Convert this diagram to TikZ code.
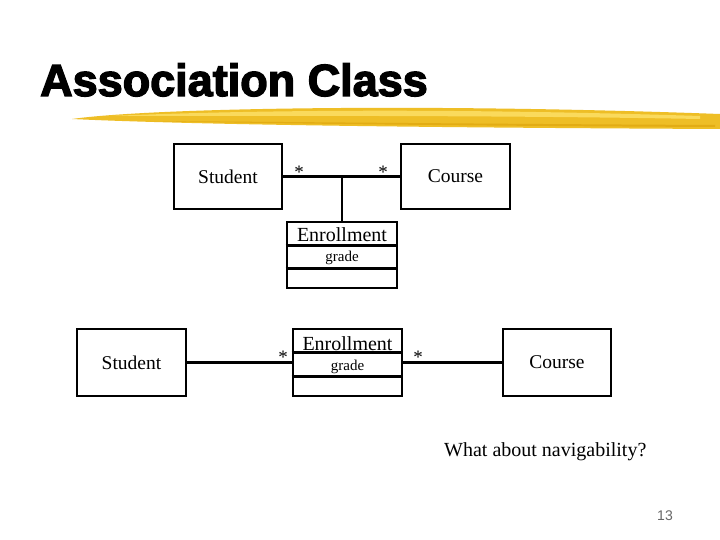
\documentclass[tikz,border=0pt]{standalone}
\usepackage{fontspec}
\setmainfont{Liberation Serif}
\newfontfamily\titlefont{Liberation Sans Bold}[FakeBold=3]
\newfontfamily\numfont{Liberation Sans}
\usetikzlibrary{positioning}
\definecolor{brushgold}{RGB}{238,190,38}
\definecolor{brushlight}{RGB}{250,218,92}
\definecolor{brushdark}{RGB}{226,172,20}
\tikzset{
  px/.style={x=1pt, y=-1pt},
  classbox/.style={draw=black, line width=2.6pt, inner sep=0pt, font=\fontsize{19.5}{22}\selectfont},
  umlline/.style={black, line width=2.6pt},
  mult/.style={inner sep=0pt, font=\fontsize{19}{20}\selectfont},
  attr/.style={inner sep=0pt, font=\fontsize{15}{17}\selectfont},
  cname/.style={inner sep=0pt, font=\fontsize{20}{22}\selectfont},
}
\begin{document}
\begin{tikzpicture}[px]
  \useasboundingbox[fill=white] (0,0) rectangle (720,540);
  % title and brush stroke
  \node[anchor=base west, inner sep=0pt, font=\titlefont\fontsize{45}{50}\selectfont] (title) at (40,96) {Association Class};
  \fill[brushgold] (72,119) .. controls (150,108) and (420,103) .. (720,114)
       -- (720,129) .. controls (520,128) and (220,126) .. (72,119) -- cycle;
  \fill[brushdark] (150,121) .. controls (300,122) and (500,124) .. (715,125)
       -- (715,127) .. controls (500,126) and (300,124) .. (150,121) -- cycle;
  \fill[brushlight] (110,116) .. controls (250,110) and (450,108) .. (700,116)
       -- (700,119) .. controls (480,115) and (260,116) .. (110,116) -- cycle;
  % upper diagram: association class hanging off the association
  \node[classbox, minimum width=108, minimum height=65] (stuA) at (228,176.5) {Student};
  \node[classbox, minimum width=109, minimum height=65] (crsA) at (455.5,176.5) {Course};
  \node[classbox, minimum width=110, minimum height=66] (enrA) at (342,255) {};
  \draw[umlline] ([yshift=-25pt]enrA.north west) -- ([yshift=-25pt]enrA.north east);
  \draw[umlline] ([yshift=-48pt]enrA.north west) -- ([yshift=-48pt]enrA.north east);
  \node[cname] (enrAname) at (342,234.5) {Enrollment};
  \node[attr] (enrAattr) at (342,258) {grade};
  \draw[umlline] (stuA) -- (crsA);
  \draw[umlline] (enrA) -- (enrA |- stuA);
  \node[mult] (mA1) at (299,172) {*};
  \node[mult] (mA2) at (383,172) {*};
  % lower diagram: association class as a plain class
  \node[classbox, minimum width=109, minimum height=67] (stuB) at (131.5,362.5) {Student};
  \node[classbox, minimum width=108, minimum height=67] (crsB) at (557,362.5) {Course};
  \node[classbox, minimum width=109, minimum height=67] (enrB) at (347.5,362.5) {};
  \draw[umlline] ([yshift=-25pt]enrB.north west) -- ([yshift=-25pt]enrB.north east);
  \draw[umlline] ([yshift=-49pt]enrB.north west) -- ([yshift=-49pt]enrB.north east);
  \node[cname] (enrBname) at (347.5,343.5) {Enrollment};
  \node[attr] (enrBattr) at (347.5,367) {grade};
  \draw[umlline] (stuB) -- (enrB);
  \draw[umlline] (enrB) -- (crsB);
  \node[mult] (mB1) at (283,357) {*};
  \node[mult] (mB2) at (418,357) {*};
  % question and page number
  \node[anchor=base west, inner sep=0pt, font=\fontsize{20}{22}\selectfont] (quest) at (444,456) {What about navigability?};
  \node[anchor=base east, inner sep=0pt, text=black!60, font=\numfont\fontsize{14}{16}\selectfont] (pagenum) at (673,520) {13};
\end{tikzpicture}
\end{document}
